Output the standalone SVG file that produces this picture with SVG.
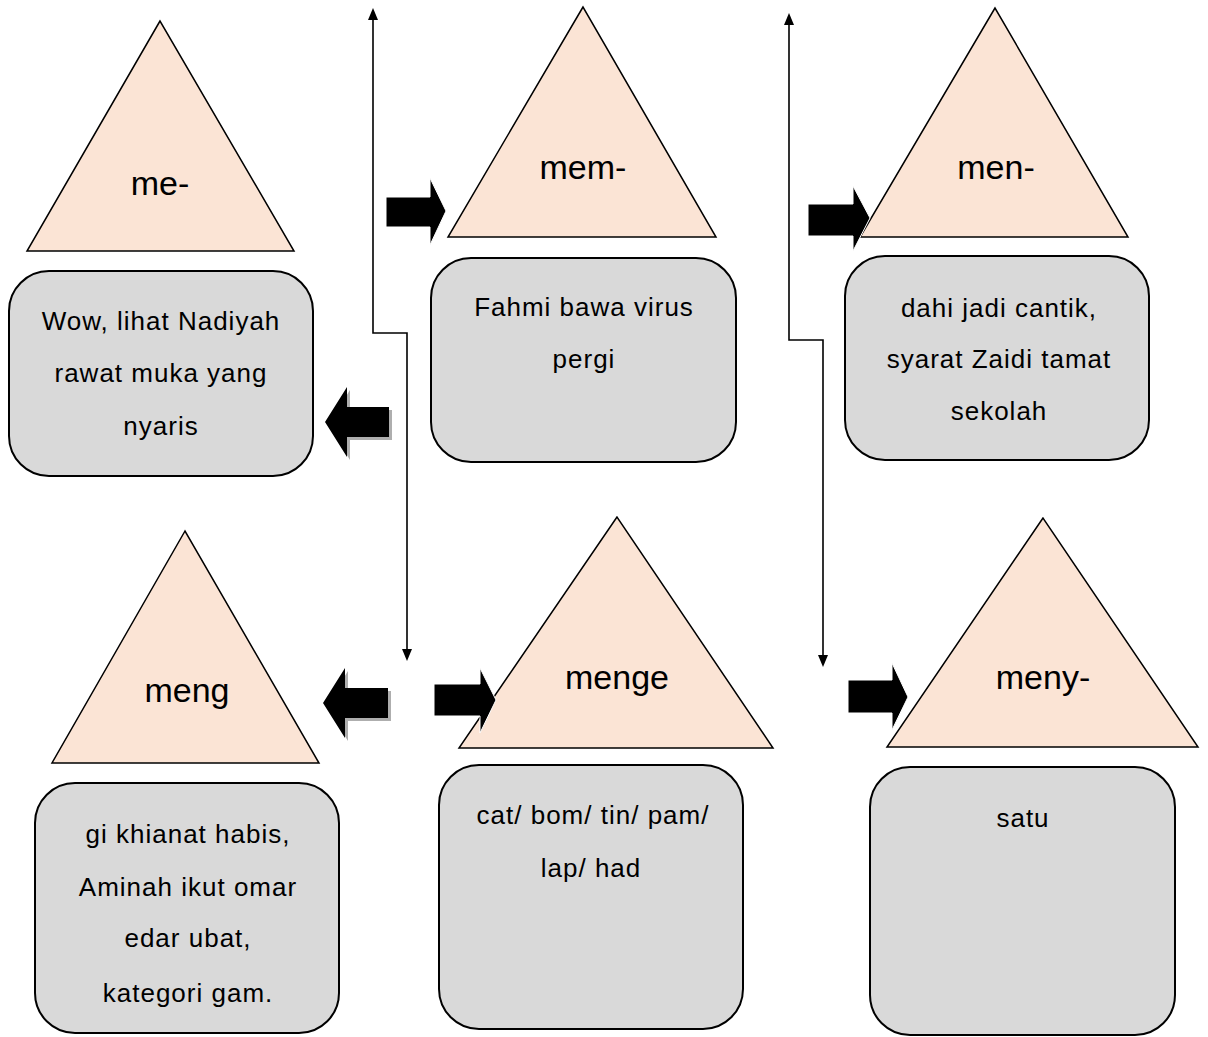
<svg xmlns="http://www.w3.org/2000/svg" width="1208" height="1037" viewBox="0 0 1208 1037">
<defs>
<style>
.tri{fill:#FBE4D5;stroke:#000;stroke-width:1.5;stroke-linejoin:miter}
.box{fill:#D9D9D9;stroke:#000;stroke-width:2}
.hd{font-family:"Liberation Sans",Arial,sans-serif;font-size:34px;fill:#000;text-anchor:middle}
.tx{font-family:"Liberation Sans",Arial,sans-serif;font-size:26px;letter-spacing:1px;fill:#000;text-anchor:middle}
.ln{fill:none;stroke:#000;stroke-width:1.6}
.ba{fill:#000;stroke:#fff;stroke-width:1}
.sh{fill:#9a9a9a;opacity:0.8}
</style>
<marker id="ah" viewBox="0 0 12 12" refX="0" refY="6" markerWidth="12" markerHeight="12" markerUnits="userSpaceOnUse" orient="auto-start-reverse">
<path d="M0,1 L12,6 L0,11 Z" fill="#000"/>
</marker>
</defs>
<rect width="1208" height="1037" fill="#fff"/>

<g id="connectors">
<path class="ln" d="M373,20 V333 H407 V649" marker-start="url(#ah)" marker-end="url(#ah)"/>
<path class="ln" d="M789,25 V340 H823 V655" marker-start="url(#ah)" marker-end="url(#ah)"/>
</g>

<g id="node-me">
<polygon class="tri" points="160,21 27,251 294,251"/>
<text class="hd" x="160" y="195">me-</text>
<rect class="box" x="9" y="271" width="304" height="205" rx="40" ry="40"/>
<text class="tx" x="161" y="330">Wow, lihat Nadiyah</text>
<text class="tx" x="161" y="382">rawat muka yang</text>
<text class="tx" x="161" y="435">nyaris</text>
</g>

<g id="node-mem">
<polygon class="tri" points="583,7 448,237 716,237"/>
<text class="hd" x="583" y="179">mem-</text>
<rect class="box" x="431" y="258" width="305" height="204" rx="40" ry="40"/>
<text class="tx" x="584" y="316">Fahmi bawa virus</text>
<text class="tx" x="584" y="368">pergi</text>
</g>

<g id="node-men">
<polygon class="tri" points="995,8 860,237 1128,237"/>
<text class="hd" x="996" y="179">men-</text>
<rect class="box" x="845" y="256" width="304" height="204" rx="40" ry="40"/>
<text class="tx" x="999" y="317">dahi jadi cantik,</text>
<text class="tx" x="999" y="368">syarat Zaidi tamat</text>
<text class="tx" x="999" y="420">sekolah</text>
</g>

<g id="node-meng">
<polygon class="tri" points="185,531 52,763 319,763"/>
<text class="hd" x="187" y="702">meng</text>
<rect class="box" x="35" y="783" width="304" height="250" rx="40" ry="40"/>
<text class="tx" x="188" y="843">gi khianat habis,</text>
<text class="tx" x="188" y="896">Aminah ikut omar</text>
<text class="tx" x="188" y="947">edar ubat,</text>
<text class="tx" x="188" y="1002">kategori gam.</text>
</g>

<g id="node-menge">
<polygon class="tri" points="617,517 459,748 773,748"/>
<text class="hd" x="617" y="689">menge</text>
<rect class="box" x="439" y="765" width="304" height="264" rx="40" ry="40"/>
<text class="tx" x="593" y="824">cat/ bom/ tin/ pam/</text>
<text class="tx" x="591" y="877">lap/ had</text>
</g>

<g id="node-meny">
<polygon class="tri" points="1043,518 887,747 1198,747"/>
<text class="hd" x="1043" y="689">meny-</text>
<rect class="box" x="870" y="767" width="305" height="268" rx="40" ry="40"/>
<text class="tx" x="1023" y="827">satu</text>
</g>

<g id="block-arrows">
<polygon class="sh" points="328,425 350,390 350,410 392,410 392,440 350,440 350,460"/>
<polygon fill="#000" points="325,422 347,387 347,407 389,407 389,437 347,437 347,457"/>
<polygon class="sh" points="326,706 348,671 348,691 391,691 391,721 348,721 348,741"/>
<polygon fill="#000" points="323,703 345,668 345,688 388,688 388,718 345,718 345,738"/>
<polygon class="ba" points="386,197 430,197 430,178 446,211 430,245 430,227 386,227"/>
<polygon class="ba" points="808,204 853,204 853,186 870,218 853,251 853,236 808,236"/>
<polygon class="ba" points="434,684 480,684 480,668 496,700 480,733 480,716 434,716"/>
<polygon class="ba" points="848,680 892,680 892,663 908,697 892,730 892,713 848,713"/>
</g>
</svg>
